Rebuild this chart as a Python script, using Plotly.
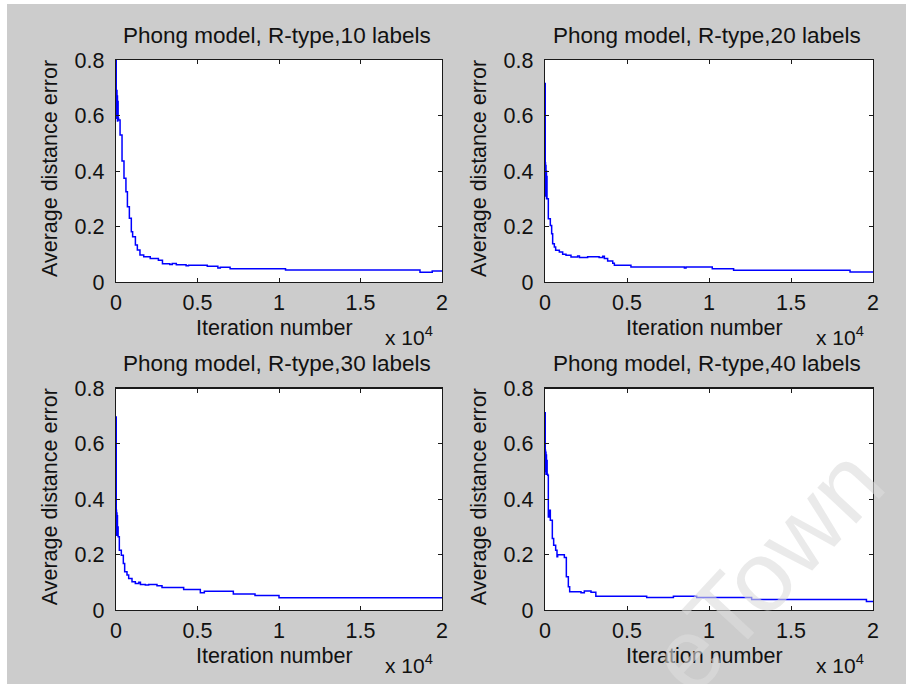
import plotly.graph_objects as go

# ---------------- data ----------------
titles = ["Phong model, R-type,10 labels", "Phong model, R-type,20 labels",
          "Phong model, R-type,30 labels", "Phong model, R-type,40 labels"]
x_label = "Iteration number"
y_label = "Average distance error"
x_tickvals = [0, 5000, 10000, 15000, 20000]
x_ticktext = ["0", "0.5", "1", "1.5", "2"]
y_tickvals = [0, 0.2, 0.4, 0.6, 0.8]
y_ticktext = ["0", "0.2", "0.4", "0.6", "0.8"]

iters_10 = [0, 15, 30, 45, 60, 75, 90, 110, 130, 160, 250, 370, 490, 610, 700, 820, 940, 1020, 1190, 1310,
            1470, 1700, 2100, 2600, 2850, 3300, 3450, 3700, 4300, 4450, 5600, 6250, 6400, 7000, 10400, 18650,
            19400, 20000]
err_10 = [0.80, 0.68, 0.59, 0.69, 0.60, 0.67, 0.58, 0.65, 0.59, 0.584, 0.53, 0.436, 0.374, 0.325, 0.271, 0.23,
          0.181, 0.163, 0.133, 0.115, 0.097, 0.091, 0.085, 0.078, 0.066, 0.063, 0.067, 0.062, 0.059, 0.06, 0.057,
          0.05, 0.053, 0.048, 0.043, 0.035, 0.04, 0.04]

iters_20 = [0, 15, 30, 45, 60, 75, 90, 105, 122, 203, 325, 406, 467, 569, 650, 874, 1077, 1280, 1585, 1990,
            2100, 2500, 2600, 3300, 3520, 3620, 3820, 4130, 4230, 5240, 8500, 8600, 10200, 11500, 18600, 20000]
err_20 = [0.715, 0.43, 0.31, 0.42, 0.32, 0.40, 0.30, 0.38, 0.30, 0.228, 0.204, 0.174, 0.138, 0.126, 0.114, 0.108,
          0.10, 0.096, 0.09, 0.094, 0.088, 0.088, 0.091, 0.088, 0.093, 0.085, 0.076, 0.068, 0.06, 0.054, 0.05,
          0.054, 0.048, 0.042, 0.036, 0.036]

iters_30 = [0, 15, 30, 45, 60, 75, 90, 110, 130, 204, 327, 450, 532, 675, 777, 982, 1186, 1400, 1500, 1800,
            2004, 2515, 2822, 4151, 5174, 5420, 7198, 8528, 10000, 20000]
err_30 = [0.697, 0.36, 0.27, 0.35, 0.28, 0.34, 0.27, 0.30, 0.265, 0.216, 0.198, 0.168, 0.138, 0.126, 0.114, 0.102,
          0.096, 0.10, 0.092, 0.09, 0.092, 0.088, 0.081, 0.074, 0.062, 0.068, 0.058, 0.052, 0.044, 0.044]

iters_40 = [0, 15, 30, 45, 60, 75, 90, 110, 130, 163, 203, 285, 325, 447, 528, 650, 732, 772, 1180, 1301, 1423,
            1504, 2195, 2398, 2805, 3100, 6200, 7830, 9250, 12600, 19600, 20000]
err_40 = [0.712, 0.577, 0.50, 0.57, 0.49, 0.56, 0.50, 0.54, 0.49, 0.487, 0.336, 0.36, 0.324, 0.258, 0.234, 0.216,
          0.192, 0.20, 0.19, 0.12, 0.084, 0.066, 0.062, 0.069, 0.064, 0.05, 0.045, 0.05, 0.045, 0.038, 0.031, 0.031]

series = [(iters_10, err_10), (iters_20, err_20), (iters_30, err_30), (iters_40, err_40)]

# ---------------- layout ----------------
W, H = 906, 684
FONT = "Arial, Liberation Sans, sans-serif"
# pixel boxes of the four axes: (left, right, top, bottom)
boxes = [(116, 442, 60, 282), (545, 873, 60, 282), (116, 442, 388.5, 610), (545, 873, 388.5, 610)]

fig = go.Figure()
annotations = []
layout = dict(
    template="none",
    width=W, height=H, margin=dict(l=0, r=0, t=0, b=0, pad=0, autoexpand=False), autosize=False,
    paper_bgcolor="#cccccc", plot_bgcolor="white", showlegend=False,
    font=dict(family=FONT, size=21, color="black"),
)

for i, ((xs, ys), (l, r, t, b), title) in enumerate(zip(series, boxes, titles)):
    n = "" if i == 0 else str(i + 1)
    fig.add_trace(go.Scatter(x=xs, y=ys, mode="lines", line=dict(color="#0000ff", width=1.5, shape="hv"),
                             xaxis="x" + n, yaxis="y" + n, hoverinfo="skip"))
    common = dict(showline=True, linecolor="#1a1a1a", linewidth=1.2, mirror="ticks", ticks="inside",
                  ticklen=4, tickcolor="#1a1a1a", tickwidth=1, showgrid=False, zeroline=False,
                  automargin=False, fixedrange=True,
                  tickfont=dict(family=FONT, size=21.5, color="#111111"))
    layout["xaxis" + n] = dict(common, domain=[l / W, r / W], anchor="y" + n, range=[0, 20000],
                               tickvals=x_tickvals, ticktext=x_ticktext, ticklabelstandoff=1)
    layout["yaxis" + n] = dict(common, domain=[1 - b / H, 1 - t / H], anchor="x" + n, range=[0, 0.8],
                               tickvals=y_tickvals, ticktext=y_ticktext, ticklabelstandoff=6)
    cx = (l + r) / 2
    annotations.append(dict(text=title, x=(cx - 2) / W, y=1 - (t - 25) / H, xref="paper", yref="paper",
                            showarrow=False, xanchor="center", yanchor="middle",
                            font=dict(family=FONT, size=22.5, color="#111111")))
    annotations.append(dict(text=x_label, x=(cx - 5) / W, y=1 - (b + 46) / H, xref="paper", yref="paper",
                            showarrow=False, xanchor="center", yanchor="middle",
                            font=dict(family=FONT, size=21.5, color="#111111")))
    annotations.append(dict(text=y_label, x=(l - 66) / W, y=1 - ((t + b) / 2 - 2) / H, xref="paper",
                            yref="paper", showarrow=False, textangle=-90, xanchor="center", yanchor="middle",
                            font=dict(family=FONT, size=21.5, color="#111111")))
    annotations.append(dict(text="x 10<sup>4</sup>", x=(r - 7) / W, y=1 - (b + 54) / H, xref="paper",
                            yref="paper", showarrow=False, xanchor="right", yanchor="middle",
                            font=dict(family=FONT, size=21, color="#111111")))

# faint watermark
annotations.append(dict(text="eTown", x=765 / W, y=1 - 570 / H, xref="paper", yref="paper", showarrow=False,
                        textangle=-47, xanchor="center", yanchor="middle",
                        font=dict(family=FONT, size=100, color="rgba(220,220,220,0.6)")))

layout["annotations"] = annotations
layout["shapes"] = [
    dict(type="rect", xref="paper", yref="paper", x0=0, x1=7 / W, y0=0, y1=1, fillcolor="white",
         line=dict(width=0), layer="above"),
    dict(type="rect", xref="paper", yref="paper", x0=0, x1=1, y0=1 - 4 / H, y1=1, fillcolor="white",
         line=dict(width=0), layer="above"),
]
fig.update_layout(**layout)
fig.write_html("out.html", config={"displayModeBar": False, "staticPlot": True},
               post_script="document.body.style.margin='0';document.body.style.overflow='hidden';")
